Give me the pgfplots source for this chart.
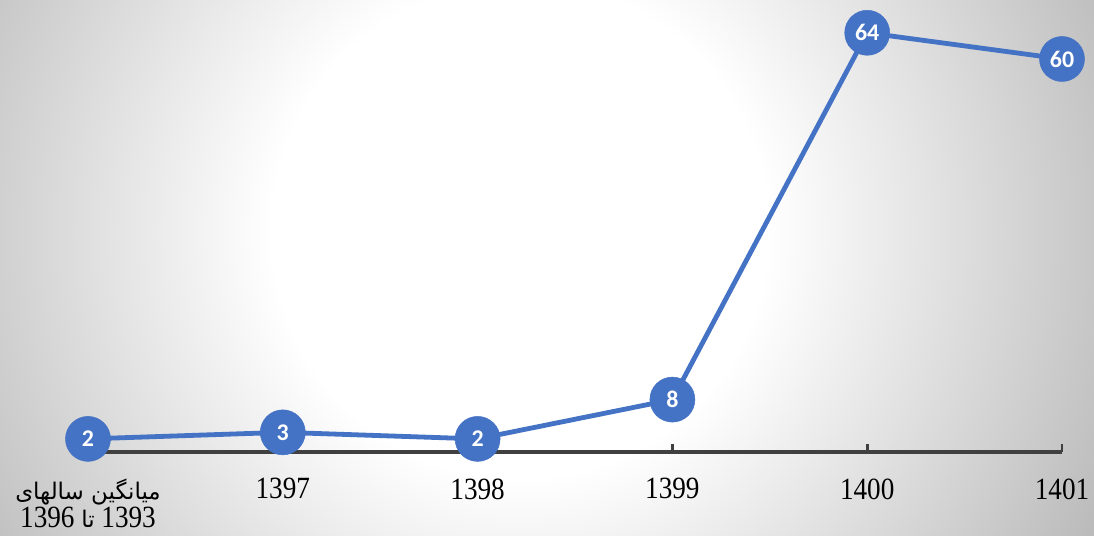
\documentclass[border=0pt]{standalone}
\usepackage{pgfplots}
\pgfplotsset{compat=1.18}
\usepackage{fontspec}
\setmainfont{Liberation Serif}
\newfontfamily\tickfont[FakeStretch=0.88]{Liberation Serif}
\newfontfamily\arabicfont[Script=Arabic]{DejaVu Sans}
\newfontfamily\lblfont{Carlito}
\TeXXeTstate=1
\definecolor{lineblue}{HTML}{4472C4}
\definecolor{axisgray}{HTML}{404040}
% the shaded square is scaled so that 25bp reaches its edge
\pgfdeclareradialshading{bgglow}{\pgfpoint{0bp}{0bp}}{%
  color(0bp)=(white); color(9.5bp)=(white); color(25bp)=(black!27); color(50bp)=(black!40)}

\begin{document}
\begin{tikzpicture}
\path[use as bounding box] (0,0) rectangle (1094bp,536bp);
\begin{scope}
  \clip (0,0) rectangle (1094bp,536bp);
  \shade[shading=bgglow] (-130bp,-344bp) rectangle (1170bp,956bp);
\end{scope}
\begin{axis}[
  at={(88bp,84bp)}, anchor=south west,
  scale only axis, width=974bp, height=419.2bp,
  xmin=0, xmax=5, ymin=0, ymax=64,
  clip=false,
  axis x line*=bottom, axis y line=none,
  x axis line style={line width=3bp, color=axisgray, -},
  xtick={0,...,5},
  xticklabels={{{\arabicfont\fontsize{23}{29}\selectfont\beginR میانگین سالهای\endR}\\
                {\beginR\beginL 1393\endL{} {\arabicfont\fontsize{23}{29}\selectfont تا} \beginL 1396\endL\endR}},
               1397, 1398, 1399, 1400, 1401},
  xticklabel style={font=\tickfont\fontsize{31}{29}\selectfont, align=center, yshift=-23bp},
  major tick length=8bp,
  tick style={line width=2.8bp, color=axisgray},
  tick align=inside,
  ytick=\empty,
]
\addplot[color=lineblue, line width=4.8bp, mark=*, mark size=22.5bp,
  mark options={fill=lineblue, draw=lineblue, line width=0.5bp},
  nodes near coords, nodes near coords align=center,
  point meta=explicit symbolic,
  every node near coord/.append style={font=\lblfont\bfseries\fontsize{24}{24}\selectfont, text=white}]
  coordinates {(0,2)[2] (1,3)[3] (2,2)[2] (3,8)[8] (4,64)[64] (5,60)[60]};
\end{axis}
\end{tikzpicture}
\end{document}
